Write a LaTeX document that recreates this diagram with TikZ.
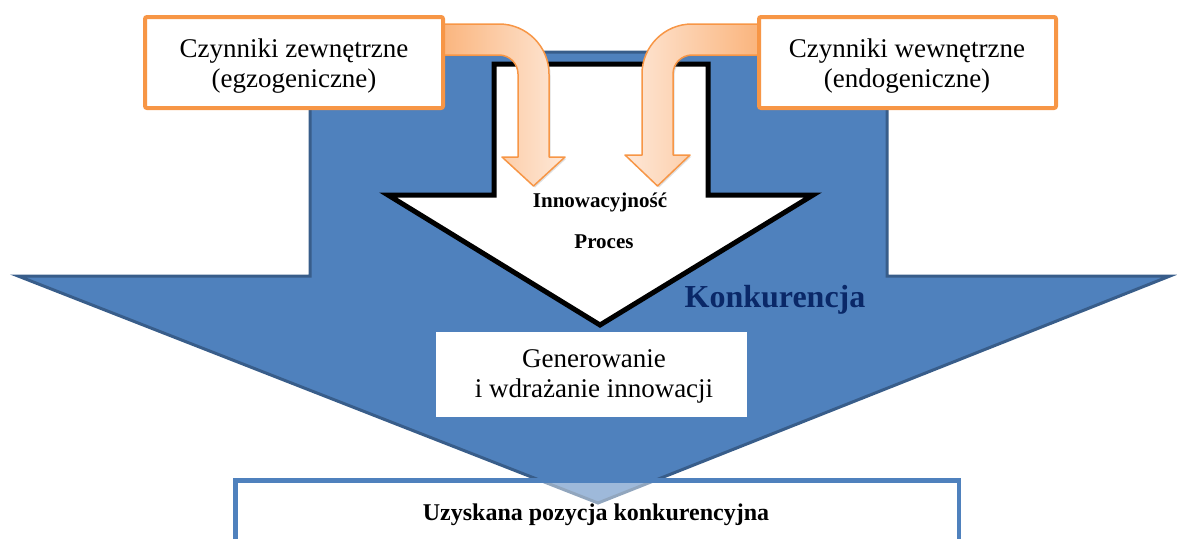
\documentclass[tikz,border=0pt]{standalone}
\usepackage{fontspec}
\setmainfont{Liberation Serif}
\usetikzlibrary{shadows}
\definecolor{compFill}{HTML}{4F81BD}
\definecolor{compEdge}{HTML}{385D8A}
\definecolor{compText}{HTML}{0A2868}
\definecolor{factorEdge}{HTML}{F79646}
\definecolor{factorDark}{HTML}{FAB47C}
\definecolor{factorLight}{HTML}{FEE8D8}
\begin{document}
\begin{tikzpicture}[x=1pt,y=-1pt,
  competition/.style={fill=compFill, draw=compEdge, line width=3pt, line join=miter},
  processarrow/.style={fill=white, draw=black, line width=5pt, line join=miter},
  factorarrow/.style={draw=factorEdge, line width=1.5pt, line join=round,
    drop shadow={opacity=0.25, shadow xshift=1.5pt, shadow yshift=-1.5pt}},
  factor/.style={draw=factorEdge, line width=4pt, fill=white, rounded corners=2pt,
    inner sep=0pt, minimum height=91pt},
  boxtext/.style={inner sep=0pt, align=center, font=\fontsize{27}{30}\selectfont},
  boldtext/.style={inner sep=0pt, anchor=base, font=\bfseries\fontsize{21}{25}\selectfont},
]
\useasboundingbox (0,0) rectangle (1177,538);
\clip (0,0) rectangle (1177,538);

% wide arrow: competition
\path[competition] (310,52) -- (887,52) -- (887,276) -- (1170,276)
  -- (598,503) -- (18,276) -- (310,276) -- cycle;

% inner arrow: innovation process
\path[processarrow] (494,64) -- (708,64) -- (708,195) -- (813,195)
  -- (600,325) -- (388,195) -- (494,195) -- cycle;

% bent arrows carrying the two groups of factors
\path[factorarrow, left color=factorDark, right color=factorLight]
  (440,24) -- (499,24) .. controls (526.6,24) and (549,46.4) .. (549,74)
  -- (549,157) -- (565,157) -- (533.5,186) -- (502,157) -- (518,157)
  -- (518,74) .. controls (518,63.5) and (509.5,55) .. (499,55)
  -- (440,55) -- cycle;
\path[factorarrow, left color=factorLight, right color=factorDark]
  (760,24) -- (692,24) .. controls (664.4,24) and (642,46.4) .. (642,74)
  -- (642,155) -- (625,155) -- (657.5,186) -- (690,155) -- (673,155)
  -- (673,74) .. controls (673,63.5) and (681.5,55) .. (692,55)
  -- (760,55) -- cycle;

% factor boxes
\node[factor, minimum width=298pt] (extbox) at (294,62.5) {};
\node[factor, minimum width=297pt] (intbox) at (907.5,62.5) {};
\node[boxtext] (exttext) at (294,65.8) {Czynniki zewnętrzne\\(egzogeniczne)};
\node[boxtext] (inttext) at (907,65.8) {Czynniki wewnętrzne\\(endogeniczne)};

% result of the process
\node[fill=white, inner sep=0pt, minimum width=311pt, minimum height=85pt]
  (genbox) at (591.5,374.5) {};
\node[boxtext] (gentext) at (594,376.8) {Generowanie\\i wdrażanie innowacji};

% obtained position
\node[draw=compFill, line width=4.5pt, fill=white, fill opacity=0.45,
  inner sep=0pt, minimum width=723.5pt, minimum height=100pt]
  (posbox) at (597.25,530.5) {};

% labels
\node[boldtext] (inntext) at (600,207) {Innowacyjność};
\node[boldtext] (proctext) at (604,248) {Proces};
\node[boldtext, text=compText, font=\bfseries\fontsize{32}{36}\selectfont]
  (comptext) at (775,307) {Konkurencja};
\node[boldtext, font=\bfseries\fontsize{24}{28}\selectfont]
  (postext) at (596,520) {Uzyskana pozycja konkurencyjna};
\end{tikzpicture}
\end{document}
